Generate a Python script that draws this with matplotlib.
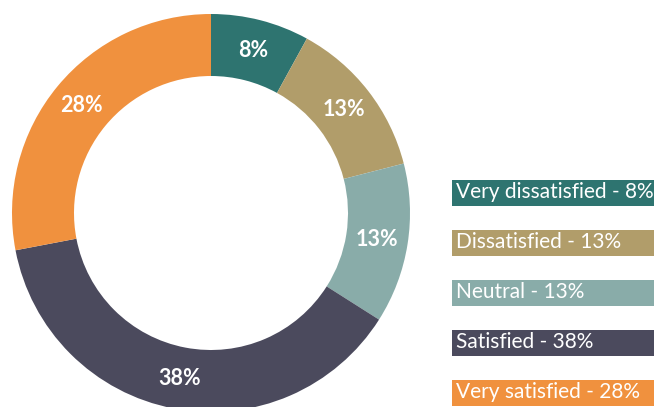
import matplotlib
matplotlib.use('Agg')
import matplotlib.pyplot as plt
from matplotlib.patches import Rectangle

plt.rcParams['font.family'] = ['Lato', 'DejaVu Sans']

categories = ['Very dissatisfied', 'Dissatisfied', 'Neutral', 'Satisfied', 'Very satisfied']
shares = [8, 13, 13, 38, 28]
colors = ['#2e7470', '#b19d6a', '#89aca9', '#4b4a5d', '#f0913e']

W, H = 654, 407
fig = plt.figure(figsize=(W / 100, H / 100), dpi=100)
ax = fig.add_axes([0, 0, 1, 1])

# donut, working in pixel units (y up)
cx, cy = 211, H - 213
r_out, ring = 199, 62
wedges, texts, autotexts = ax.pie(
    shares, colors=colors, startangle=90, counterclock=False,
    center=(cx, cy), radius=r_out,
    wedgeprops=dict(width=ring, linewidth=0),
    autopct='%.0f%%', pctdistance=0.845,
    textprops=dict(color='white', fontsize=15.5, fontweight='bold'))

ax.set_xlim(0, W)
ax.set_ylim(0, H)
ax.set_aspect('equal')
ax.axis('off')

# legend boxes on the right
box_x, box_h = 452, 26
top_y = 180
step = 50
for i, (cat, val, c) in enumerate(zip(categories, shares, colors)):
    y0 = H - (top_y + i * step) - box_h
    ax.add_patch(Rectangle((box_x, y0), 260, box_h, facecolor=c,
                           edgecolor='none', clip_on=False))
    ax.text(box_x + 4, y0 + box_h / 2 + 1, f'{cat} - {val}%', color='white',
            fontsize=15, va='center', ha='left')

fig.savefig('out.png', dpi=100)
